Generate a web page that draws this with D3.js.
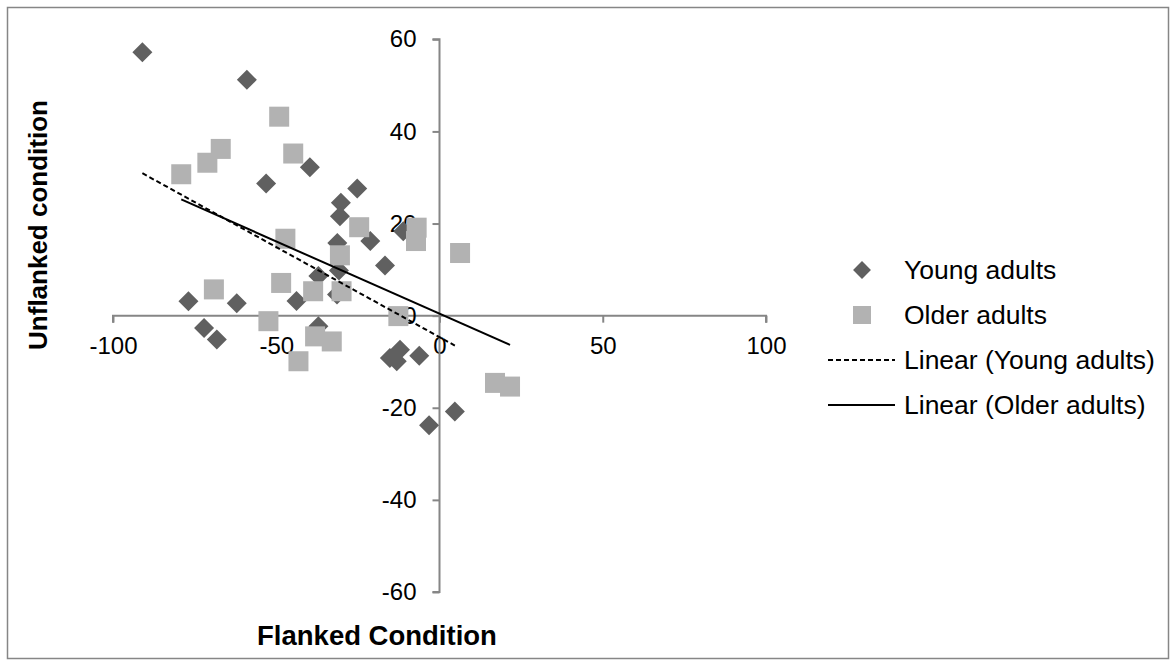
<!DOCTYPE html>
<html>
<head>
<meta charset="utf-8">
<script src="https://cdn.jsdelivr.net/npm/d3@7"></script>
<style>
  body { margin: 0; background: #fff; }
  svg { display: block; font-family: "Liberation Sans", Arial, sans-serif; }
</style>
</head>
<body>
<svg></svg>
<script>
let width = 1176, height = 666;

// data: [flanked, unflanked]
let youngAdults = [
    [-91, 57.2], [-59, 51.2], [-53.1, 28.7], [-39.7, 32.2], [-25.2, 27.6],
    [-30.2, 24.5], [-30.5, 21.6], [-21.2, 16.2], [-31.3, 15.8], [-16.7, 10.9],
    [-30.8, 9.8], [-37.1, 8.6], [-43.8, 3.2], [-31.4, 4.6], [-37.1, -2.3],
    [-76.9, 3.1], [-62.1, 2.7], [-72.1, -2.7], [-68.2, -5.2], [-15.2, -9.2],
    [-13.1, -9.9], [-12.1, -7.4], [-6.2, -8.7], [-3.2, -23.8], [4.7, -20.8],
    [-11.1, 18.3]
];
let olderAdults = [
    [-49.1, 43.2], [-67, 36.2], [-71.1, 33.2], [-79.1, 30.7], [-44.8, 35.2],
    [-47.2, 16.7], [-24.6, 19.2], [-30.5, 13.1], [-7, 19.1], [-7.2, 16.2],
    [6.3, 13.6], [-48.5, 7.1], [-38.7, 5.3], [-30, 5.3], [-12.6, -0.1],
    [-38.1, -4.5], [-33, -5.6], [-43.2, -9.9], [17, -14.6], [21.6, -15.4],
    [-69.1, 5.7], [-52.4, -1.2]
];
// trend lines: [slope, intercept]
let youngTrend = [-0.391, -4.66];
let olderTrend = [-0.314, 0.42];

let xTicks = [-100, -50, 0, 50, 100];
let yTicks = [-60, -40, -20, 0, 20, 40, 60];
let legendLabels = ["Young adults", "Older adults", "Linear (Young adults)", "Linear (Older adults)"];

let svg = d3.select("svg")
    .attr("width", width)
    .attr("height", height);

// outer frame
svg.append("rect")
    .attr("x", 7.5).attr("y", 7.5)
    .attr("width", 1161).attr("height", 651)
    .attr("fill", "none")
    .attr("stroke", "#868686")
    .attr("stroke-width", 1.5);

let x = d3.scaleLinear().domain([-100, 100]).range([113, 766]);
let y = d3.scaleLinear().domain([-60, 60]).range([592, 39.3]);

let axisColor = "#868686";

// x axis through y = 0
let xAxis = svg.append("g")
    .attr("transform", "translate(0," + y(0) + ")")
    .call(d3.axisBottom(x).tickValues(xTicks).tickSize(7).tickPadding(14).tickFormat(d => String(d)));
xAxis.select(".domain").attr("stroke", axisColor).attr("stroke-width", 2)
    .attr("d", "M" + x(-100) + ",7V0H" + x(100) + "V7");
xAxis.selectAll(".tick line").attr("stroke", axisColor).attr("stroke-width", 2);
xAxis.selectAll(".tick text").attr("font-size", 24).attr("fill", "#000")
    .attr("font-family", "Liberation Sans, Arial, sans-serif");

// y axis through x = 0
let yAxis = svg.append("g")
    .attr("transform", "translate(" + x(0) + ",0)")
    .call(d3.axisLeft(y).tickValues(yTicks).tickSize(7).tickPadding(16).tickFormat(d => String(d)));
yAxis.select(".domain").attr("stroke", axisColor).attr("stroke-width", 2)
    .attr("d", "M-7," + y(60) + "H0V" + y(-60) + "H-7");
yAxis.selectAll(".tick line").attr("stroke", axisColor).attr("stroke-width", 2);
yAxis.selectAll(".tick text").attr("font-size", 24).attr("fill", "#000")
    .attr("font-family", "Liberation Sans, Arial, sans-serif");

let diamond = d3.symbol().type(d3.symbolSquare).size(200);

// Young adults (diamonds)
svg.append("g")
    .selectAll("path")
    .data(youngAdults)
    .enter()
    .append("path")
    .attr("d", diamond)
    .attr("transform", d => "translate(" + x(d[0]) + "," + y(d[1]) + ") rotate(45)")
    .attr("fill", "#606060");

// Older adults (squares)
svg.append("g")
    .selectAll("rect")
    .data(olderAdults)
    .enter()
    .append("rect")
    .attr("x", d => x(d[0]) - 10)
    .attr("y", d => y(d[1]) - 10)
    .attr("width", 20)
    .attr("height", 20)
    .attr("fill", "#b2b2b2");

// trend lines over each series' x range
function trendLine(data, coef) {
    let ext = d3.extent(data, d => d[0]);
    return ext.map(v => [v, coef[0] * v + coef[1]]);
}
let line = d3.line().x(d => x(d[0])).y(d => y(d[1]));

svg.append("path")
    .attr("d", line(trendLine(youngAdults, youngTrend)))
    .attr("fill", "none")
    .attr("stroke", "#000")
    .attr("stroke-width", 2)
    .attr("stroke-dasharray", "5,3");

svg.append("path")
    .attr("d", line(trendLine(olderAdults, olderTrend)))
    .attr("fill", "none")
    .attr("stroke", "#000")
    .attr("stroke-width", 2);

// legend
let legend = svg.append("g").attr("transform", "translate(828,270)");
legendLabels.forEach((label, i) => {
    let row = legend.append("g").attr("transform", "translate(0," + i * 45 + ")");
    if (i == 0) {
        row.append("path").attr("d", d3.symbol().type(d3.symbolSquare).size(160))
            .attr("transform", "translate(34,0) rotate(45)")
            .attr("fill", "#606060");
    } else if (i == 1) {
        row.append("rect").attr("x", 25).attr("y", -9).attr("width", 18).attr("height", 18)
            .attr("fill", "#b2b2b2");
    } else {
        row.append("line").attr("x1", 0).attr("x2", 67).attr("y1", 0).attr("y2", 0)
            .attr("stroke", "#000").attr("stroke-width", 2)
            .attr("stroke-dasharray", i == 2 ? "5,3" : null);
    }
    row.append("text")
        .attr("x", 76)
        .attr("dy", "0.35em")
        .attr("font-size", 26.5)
        .text(label);
});

// axis titles
svg.append("text")
    .attr("x", 377)
    .attr("y", 645)
    .attr("text-anchor", "middle")
    .attr("font-size", 27.5)
    .attr("font-weight", "bold")
    .text("Flanked Condition");

svg.append("text")
    .attr("transform", "translate(47,225) rotate(-90)")
    .attr("text-anchor", "middle")
    .attr("font-size", 26)
    .attr("font-weight", "bold")
    .text("Unflanked condition");
</script>
</body>
</html>
